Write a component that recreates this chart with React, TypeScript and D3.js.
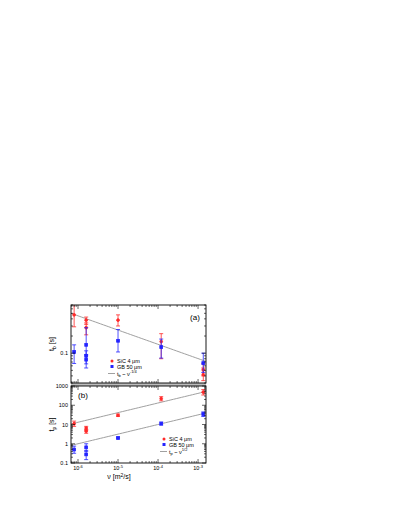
import React from "react";
import * as d3 from "d3";

// ---- data ----
const xDomain = [6.68e-7, 1.58e-3];
const xTickLabels = ["-6", "-5", "-4", "-3"];
const xMajor = [1e-6, 1e-5, 1e-4, 1e-3];

// panel (a): t_b
const tbDomain = [0.03, 0.7];
const sicTbX = [8e-7, 1.6e-6, 1.6e-6, 1e-5, 1.2e-4, 1.35e-3, 1.35e-3];
const sicTbY = [0.47, 0.38, 0.28, 0.38, 0.16, 0.051, 0.042];
const sicTbLo = [0.29, 0.32, 0.21, 0.3, 0.08, 0.04, 0.033];
const sicTbHi = [0.9, 0.43, 0.34, 0.47, 0.22, 0.065, 0.055];
const gbTbX = [8e-7, 1.6e-6, 1.6e-6, 1.6e-6, 1e-5, 1.2e-4, 1.35e-3];
const gbTbY = [0.105, 0.14, 0.09, 0.077, 0.165, 0.128, 0.067];
const gbTbLo = [0.066, 0.09, 0.065, 0.055, 0.105, 0.082, 0.046];
const gbTbHi = [0.14, 0.28, 0.11, 0.095, 0.26, 0.177, 0.1];
const tbFitCoef = 0.0143; // t_b = A * v^-1/4
const tbFitExp = -0.25;

// panel (b): t_p
const tpDomain = [0.1, 1000];
const tpTickLabels = ["0.1", "1", "10", "100", "1000"];
const sicTpX = [8e-7, 1.6e-6, 1.6e-6, 1e-5, 1.2e-4, 1.35e-3];
const sicTpY = [11, 6.5, 4.5, 30, 220, 480];
const sicTpLo = [8, 5, 3.5, 26, 170, 340];
const sicTpHi = [15, 8, 5.5, 35, 280, 650];
const gbTpX = [8e-7, 1.6e-6, 1.6e-6, 1e-5, 1.2e-4, 1.35e-3];
const gbTpY = [0.5, 0.65, 0.28, 2.0, 11, 35];
const gbTpLo = [0.32, 0.4, 0.15, 1.8, 9.5, 26];
const gbTpHi = [0.75, 1.0, 0.45, 2.2, 13.5, 45];
const tpFitSic = 13090;
const tpFitGb = 1000;
const tpFitExp = 0.5;

const RED = "#ff2a2a";
const BLUE = "#2424ff";
const GRAY = "#a0a0a0";
const FONT = "Liberation Sans, Arial, sans-serif";

const L = 71, R = 206;
const A_TOP = 305, A_BOT = 383;
const B_TOP = 386, B_BOT = 463;

const x = d3.scaleLog().domain(xDomain).range([L, R]);
const yA = d3.scaleLog().domain(tbDomain).range([A_BOT, A_TOP]);
const yB = d3.scaleLog().domain(tpDomain).range([B_BOT, B_TOP]);

function logTicks(lo: number, hi: number) {
  const out: { v: number; major: boolean }[] = [];
  const e0 = Math.floor(Math.log10(lo)) - 1;
  const e1 = Math.ceil(Math.log10(hi)) + 1;
  for (let e = e0; e <= e1; e++) {
    for (let m = 1; m <= 9; m++) {
      const v = m * Math.pow(10, e);
      if (v >= lo * 0.9999 && v <= hi * 1.0001) out.push({ v, major: m === 1 });
    }
  }
  return out;
}

const xTicks = logTicks(xDomain[0], xDomain[1]);

function Frame({ y, top, bot }: { y: any; top: number; bot: number }) {
  const yt = logTicks(y.domain()[0], y.domain()[1]);
  return (
    <g stroke="#000" strokeWidth={0.6}>
      {xTicks.map((t, i) => {
        const px = x(t.v);
        const len = t.major ? 4 : 2;
        return (
          <g key={"x" + i}>
            <line x1={px} x2={px} y1={bot} y2={bot - len} />
            <line x1={px} x2={px} y1={top} y2={top + len} />
          </g>
        );
      })}
      {yt.map((t, i) => {
        const py = y(t.v);
        const len = t.major ? 4 : 2;
        return (
          <g key={"y" + i}>
            <line x1={L} x2={L + len} y1={py} y2={py} />
            <line x1={R} x2={R - len} y1={py} y2={py} />
          </g>
        );
      })}
      <rect x={L} y={top} width={R - L} height={bot - top} fill="none" strokeWidth={0.9} />
    </g>
  );
}

function Series({ xs, ys, lo, hi, y, color, shape }: any) {
  return (
    <g>
      {xs.map((xv: number, i: number) => {
        const px = x(xv);
        return (
          <g key={i} stroke={color} strokeWidth={0.8}>
            <line x1={px} x2={px} y1={y(lo[i])} y2={y(hi[i])} />
            <line x1={px - 2} x2={px + 2} y1={y(lo[i])} y2={y(lo[i])} />
            <line x1={px - 2} x2={px + 2} y1={y(hi[i])} y2={y(hi[i])} />
            {shape === "circle" ? (
              <circle cx={px} cy={y(ys[i])} r={1.4} fill={color} />
            ) : (
              <rect x={px - 1.4} y={y(ys[i]) - 1.4} width={2.8} height={2.8} fill={color} />
            )}
          </g>
        );
      })}
    </g>
  );
}

function fitPath(coef: number, exp: number, y: any) {
  const pts = d3.range(0, 51).map((i) => {
    const lv = Math.log10(xDomain[0]) + (i / 50) * (Math.log10(xDomain[1]) - Math.log10(xDomain[0]));
    const v = Math.pow(10, lv);
    return [x(v), y(coef * Math.pow(v, exp))] as [number, number];
  });
  return d3.line()(pts) || "";
}

function Legend({ x0, y0, fitSub, fitExp }: any) {
  return (
    <g fontFamily={FONT} fontSize={5.5} fill="#000">
      <circle cx={x0} cy={y0} r={1.5} fill={RED} />
      <text x={x0 + 5} y={y0 + 2}>SiC 4 μm</text>
      <rect x={x0 - 1.5} y={y0 + 5.5 - 1.5} width={3} height={3} fill={BLUE} />
      <text x={x0 + 5} y={y0 + 7.5}>GB 50 μm</text>
      <line x1={x0 - 4} x2={x0 + 3} y1={y0 + 12.5} y2={y0 + 12.5} stroke={GRAY} strokeWidth={1} />
      <text x={x0 + 5} y={y0 + 14.5}>
        t<tspan fontSize={4} dy={1}>{fitSub}</tspan>
        <tspan dy={-1}> ~ ν</tspan>
        <tspan fontSize={4} dy={-2.5}>{fitExp}</tspan>
      </text>
    </g>
  );
}

export default function App() {
  return (
    <div style={{ position: "absolute", left: 0, top: 0 }}>
      <svg width={409} height={529} style={{ display: "block" }}>
        <rect width={409} height={529} fill="#fff" />
        <defs>
          <clipPath id="clipA">
            <rect x={L} y={A_TOP} width={R - L} height={A_BOT - A_TOP} />
          </clipPath>
          <clipPath id="clipB">
            <rect x={L} y={B_TOP} width={R - L} height={B_BOT - B_TOP} />
          </clipPath>
        </defs>

        {/* gap between panels */}
        <rect x={L} y={A_BOT} width={R - L} height={B_TOP - A_BOT} fill="#bdbdbd" />

        {/* Panel (a) */}
        <g clipPath="url(#clipA)">
          <path d={fitPath(tbFitCoef, tbFitExp, yA)} fill="none" stroke={GRAY} strokeWidth={1} />
          <Series xs={sicTbX} ys={sicTbY} lo={sicTbLo} hi={sicTbHi} y={yA} color={RED} shape="circle" />
          <Series xs={gbTbX} ys={gbTbY} lo={gbTbLo} hi={gbTbHi} y={yA} color={BLUE} shape="square" />
        </g>
        <Frame y={yA} top={A_TOP} bot={A_BOT} />
        <text x={L - 3} y={yA(0.1) + 2} textAnchor="end" fontFamily={FONT} fontSize={5.5}>0.1</text>
        <text x={195} y={320} textAnchor="middle" fontFamily={FONT} fontSize={8}>(a)</text>
        <Legend x0={112} y0={361} fitSub="b" fitExp="-1/4" />
        <text transform={`translate(54,${(A_TOP + A_BOT) / 2}) rotate(-90)`} textAnchor="middle" fontFamily={FONT} fontSize={7}>
          t<tspan fontSize={5} dy={1.5}>b</tspan><tspan dy={-1.5}> [s]</tspan>
        </text>

        {/* Panel (b) */}
        <g clipPath="url(#clipB)">
          <path d={fitPath(tpFitSic, tpFitExp, yB)} fill="none" stroke={GRAY} strokeWidth={1} />
          <path d={fitPath(tpFitGb, tpFitExp, yB)} fill="none" stroke={GRAY} strokeWidth={1} />
          <Series xs={sicTpX} ys={sicTpY} lo={sicTpLo} hi={sicTpHi} y={yB} color={RED} shape="circle" />
          <Series xs={gbTpX} ys={gbTpY} lo={gbTpLo} hi={gbTpHi} y={yB} color={BLUE} shape="square" />
        </g>
        <Frame y={yB} top={B_TOP} bot={B_BOT} />
        {tpTickLabels.map((t, i) => (
          <text key={i} x={L - 3} y={yB(+t) + 2} textAnchor="end" fontFamily={FONT} fontSize={5.5}>{t}</text>
        ))}
        <text x={83} y={398} textAnchor="middle" fontFamily={FONT} fontSize={8}>(b)</text>
        <Legend x0={164} y0={439} fitSub="p" fitExp="1/2" />
        <text transform={`translate(54,${(B_TOP + B_BOT) / 2}) rotate(-90)`} textAnchor="middle" fontFamily={FONT} fontSize={7}>
          t<tspan fontSize={5} dy={1.5}>p</tspan><tspan dy={-1.5}> [s]</tspan>
        </text>

        {/* x axis labels */}
        {xMajor.map((v, i) => (
          <text key={i} x={x(v)} y={B_BOT + 7} textAnchor="middle" fontFamily={FONT} fontSize={5.5}>
            10<tspan fontSize={4} dy={-2.5}>{xTickLabels[i]}</tspan>
          </text>
        ))}
        <text x={119} y={479} textAnchor="middle" fontFamily={FONT} fontSize={7}>
          ν  [m<tspan fontSize={5} dy={-2.5}>2</tspan><tspan dy={2.5}>/s]</tspan>
        </text>
      </svg>
    </div>
  );
}
